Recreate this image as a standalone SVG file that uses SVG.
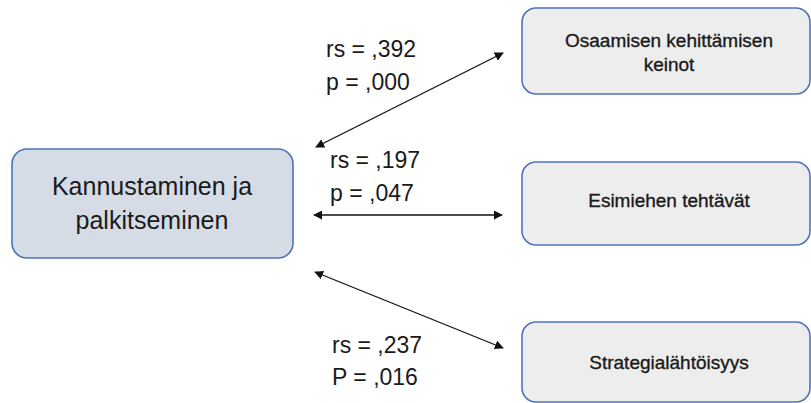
<svg xmlns="http://www.w3.org/2000/svg" width="811" height="403" viewBox="0 0 811 403">
  <style>
    .hub { fill: #d6dce5; stroke: #4f73b8; stroke-width: 1.6; }
    .box { fill: #ededed; stroke: #4f73b8; stroke-width: 1.6; }
    .hubtxt { font-family: "Liberation Sans", Arial, sans-serif; font-size: 25px; fill: #1a1a1a; text-anchor: middle; }
    .boxtxt { font-family: "Liberation Sans", Arial, sans-serif; font-size: 19px; fill: #1a1a1a; text-anchor: middle; stroke: #1a1a1a; stroke-width: 0.35; }
    .stat { font-family: "Liberation Sans", Arial, sans-serif; font-size: 23px; fill: #1a1a1a; }
    .link { stroke: #111; stroke-width: 1.3; fill: none; marker-start: url(#tip); marker-end: url(#tip); }
  </style>
  <defs>
    <marker id="tip" viewBox="0 0 10 10" refX="9" refY="5" markerWidth="9" markerHeight="9" markerUnits="userSpaceOnUse" orient="auto-start-reverse">
      <path d="M0,0 L10,5 L0,10 z" fill="#111"/>
    </marker>
  </defs>

  <rect width="811" height="403" fill="#ffffff"/>

  <g id="kannustaminen">
    <rect class="hub" x="12" y="149" width="281" height="109" rx="15"/>
    <text class="hubtxt" x="152" y="195">Kannustaminen ja</text>
    <text class="hubtxt" x="152" y="229">palkitseminen</text>
  </g>

  <g id="osaamisen">
    <rect class="box" x="522" y="8" width="288" height="86" rx="14"/>
    <text class="boxtxt" x="669" y="47">Osaamisen kehittämisen</text>
    <text class="boxtxt" x="669" y="71">keinot</text>
  </g>

  <g id="esimiehen">
    <rect class="box" x="522" y="162" width="288" height="83" rx="14"/>
    <text class="boxtxt" x="669" y="207">Esimiehen tehtävät</text>
  </g>

  <g id="strategia">
    <rect class="box" x="522" y="322" width="288" height="80" rx="14"/>
    <text class="boxtxt" x="669" y="369">Strategialähtöisyys</text>
  </g>

  <g id="connectors">
    <line class="link" x1="316" y1="147" x2="503" y2="53"/>
    <line class="link" x1="314" y1="215" x2="502" y2="215"/>
    <line class="link" x1="315" y1="272" x2="503" y2="348"/>
  </g>

  <g id="stats">
    <text class="stat" x="326" y="57">rs = ,392</text>
    <text class="stat" x="326" y="90">p = ,000</text>
    <text class="stat" x="330" y="168">rs = ,197</text>
    <text class="stat" x="330" y="201">p = ,047</text>
    <text class="stat" x="332" y="353">rs = ,237</text>
    <text class="stat" x="332" y="385">P = ,016</text>
  </g>
</svg>
